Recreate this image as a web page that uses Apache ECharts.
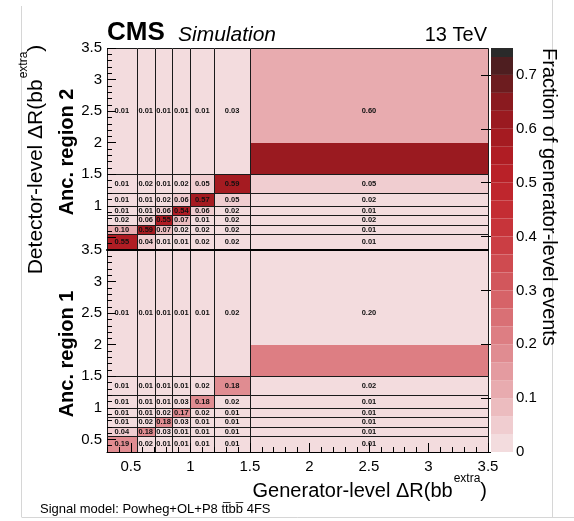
<!DOCTYPE html>
<html><head><meta charset="utf-8">
<script src="https://cdn.jsdelivr.net/npm/echarts@6.0.0/dist/echarts.min.js"></script>
<style>html,body{margin:0;padding:0;background:#fff}#c{width:574px;height:521px}</style>
</head><body><div id="c"></div>
<script>
// ---- data ----
const xEdges = [0.3, 0.55, 0.7, 0.85, 1.0, 1.2, 1.5, 3.5];
const yEdges = [0.3, 0.55, 0.7, 0.85, 1.0, 1.2, 1.5, 3.5];
// rows: detector-level bins from bottom to top; columns: generator-level bins
const region2 = [
  [0.55, 0.04, 0.01, 0.01, 0.02, 0.02, 0.01],
  [0.10, 0.59, 0.07, 0.02, 0.02, 0.02, 0.01],
  [0.02, 0.06, 0.55, 0.07, 0.01, 0.02, 0.02],
  [0.01, 0.01, 0.06, 0.54, 0.06, 0.02, 0.01],
  [0.01, 0.01, 0.02, 0.06, 0.57, 0.05, 0.02],
  [0.01, 0.02, 0.01, 0.02, 0.05, 0.59, 0.05],
  [0.01, 0.01, 0.01, 0.01, 0.01, 0.03, 0.60]
];
const region1 = [
  [0.19, 0.02, 0.01, 0.01, 0.01, 0.01, 0.01],
  [0.04, 0.18, 0.03, 0.01, 0.01, 0.01, 0.01],
  [0.01, 0.02, 0.18, 0.03, 0.01, 0.01, 0.01],
  [0.01, 0.01, 0.02, 0.17, 0.02, 0.01, 0.01],
  [0.01, 0.01, 0.01, 0.03, 0.18, 0.02, 0.01],
  [0.01, 0.01, 0.01, 0.01, 0.02, 0.18, 0.02],
  [0.01, 0.01, 0.01, 0.01, 0.01, 0.02, 0.20]
];
// upper part of the last cell is shown in a different shade
const topRightShadeRegion2 = 0.11;
const topRightShadeRegion1 = 0.01;
const topRightBandEdge = 2.0;
const xTicks = [0.5, 1, 1.5, 2, 2.5, 3, 3.5];
const yTicksRegion1 = [0.5, 1, 1.5, 2, 2.5, 3, 3.5];
const yTicksRegion2 = [1, 1.5, 2, 2.5, 3, 3.5];
const yMajorTicks = [0.5, 1, 1.5, 2, 2.5, 3, 3.5];
const colorbarTicks = [0, 0.1, 0.2, 0.3, 0.4, 0.5, 0.6, 0.7];
const zMax = 0.75;
const bandWidth = 1 / 30;
const palette = ['#f3dcde','#f0cdd0','#ecbcbf','#e8abaf','#e49ba0','#e08c91','#dd7e83','#d97075',
  '#d66368','#d2575c','#cf4b50','#cb3e44','#c7343a','#c42d33','#bf262d','#b92128','#b01d24',
  '#a51b21','#9a1a20','#8a1a1f','#6d1c1f','#4e1e20','#2a2a2a'];

// ---- helpers ----
const FONT = '"Liberation Sans", Arial, Helvetica, sans-serif';
const minorTicks = [];
for (let k = 3; k <= 35; k++) { if (k % 5 !== 0) minorTicks.push(k / 10); }
function colorOf(v) {
  let i = Math.floor(v / bandWidth + 1e-9);
  i = Math.max(0, Math.min(palette.length - 1, i));
  return palette[i];
}
function cellData(M, shade) {
  const out = [];
  for (let j = 0; j < M.length; j++) for (let i = 0; i < M[j].length; i++) {
    const last = (i === M[j].length - 1 && j === M.length - 1);
    out.push([xEdges[i], xEdges[i + 1], yEdges[j], yEdges[j + 1], M[j][i], last ? shade : -1]);
  }
  return out;
}
function renderCell(params, api) {
  const x0 = api.value(0), x1 = api.value(1), y0 = api.value(2), y1 = api.value(3);
  const v = api.value(4), sh = api.value(5);
  const tl = api.coord([x0, y1]), br = api.coord([x1, y0]);
  const L = Math.round(tl[0]), T = Math.round(tl[1]), R = Math.round(br[0]), B = Math.round(br[1]);
  const children = [{type: 'rect', shape: {x: L, y: T, width: R - L, height: B - T}, style: {fill: colorOf(v)}}];
  if (sh >= 0) {
    const m = Math.round(api.coord([x0, topRightBandEdge])[1]);
    children.push({type: 'rect', shape: {x: L, y: T, width: R - L, height: m - T}, style: {fill: colorOf(sh)}});
  }
  children.push({type: 'rect', shape: {x: L + 0.5, y: T + 0.5, width: R - L, height: B - T},
    style: {fill: 'none', stroke: '#1a1a1a', lineWidth: 1}});
  const cx = (api.coord([x0, y0])[0] + api.coord([x1, y0])[0]) / 2;
  const cy = api.coord([x0, (y0 + y1) / 2])[1];
  children.push({type: 'text', style: {text: v.toFixed(2), x: cx, y: cy, align: 'center', verticalAlign: 'middle',
    font: 'bold 7.5px ' + FONT, fill: '#111'}});
  return {type: 'group', children};
}
const colorbarBands = palette.map((c, k) => [k * bandWidth, Math.min((k + 1) * bandWidth, zMax), k]);
function renderBand(params, api) {
  const lo = api.value(0), hi = api.value(1), k = api.value(2);
  const tl = api.coord([0, hi]), br = api.coord([1, lo]);
  return {type: 'rect', shape: {x: tl[0], y: tl[1], width: br[0] - tl[0], height: br[1] - tl[1]},
    style: {fill: palette[k]}};
}
const cv = document.createElement('canvas').getContext('2d');
function measure(t, f) { cv.font = f; return cv.measureText(t).width; }
function supTitle(main, sup, tail, align, size, supSize) {
  const f1 = size + 'px ' + FONT, f2 = supSize + 'px ' + FONT;
  const w1 = measure(main, f1), w2 = measure(sup, f2), w3 = measure(tail, f1);
  const W = w1 + w2 + w3;
  const s = align === 'right' ? -W : -W / 2;
  const st = (t, f, x, y) => ({type: 'text', x: x, y: y, style: {text: t, font: f, fill: '#000', align: 'left', verticalAlign: 'middle'}});
  return [st(main, f1, s, 0), st(sup, f2, s + w1 + 1, -12), st(tail, f1, s + w1 + w2 + 1, 0)];
}

const axisLabelStyle = {fontFamily: FONT, fontSize: 15, color: '#000'};
const noSplit = {show: false};
const chart = echarts.init(document.getElementById('c'));
chart.setOption({
  animation: false,
  backgroundColor: '#fff',
  grid: [
    {left: 107, top: 48, width: 381, height: 202},
    {left: 107, top: 250, width: 381, height: 202},
    {left: 491, top: 48, width: 22, height: 404}
  ],
  xAxis: [
    {type: 'value', gridIndex: 0, min: 0.3, max: 3.5, position: 'bottom', z: 10,
      axisLine: {show: true, lineStyle: {color: '#000', width: 2}}, axisTick: {show: false}, axisLabel: {show: false}, splitLine: noSplit},
    {type: 'value', gridIndex: 1, min: 0.3, max: 3.5, position: 'bottom', z: 10,
      axisLine: {show: true, lineStyle: {color: '#000', width: 1}},
      axisTick: {show: true, inside: true, length: 9, customValues: xTicks, lineStyle: {color: '#000'}},
      axisLabel: Object.assign({customValues: xTicks, margin: 7, formatter: v => String(v)}, axisLabelStyle), splitLine: noSplit},
    {type: 'value', gridIndex: 1, min: 0.3, max: 3.5, position: 'bottom', z: 10,
      axisLine: {show: false}, axisTick: {show: true, inside: true, length: 5, customValues: minorTicks, lineStyle: {color: '#000'}},
      axisLabel: {show: false}, splitLine: noSplit},
    {type: 'value', gridIndex: 2, min: 0, max: 1, show: false}
  ],
  yAxis: [
    {type: 'value', gridIndex: 0, min: 0.3, max: 3.5, position: 'left', z: 10,
      axisLine: {show: false},
      axisTick: {show: true, inside: true, length: 9, customValues: yMajorTicks, lineStyle: {color: '#000'}},
      axisLabel: Object.assign({customValues: yTicksRegion2, margin: 5, formatter: v => String(v)}, axisLabelStyle), splitLine: noSplit},
    {type: 'value', gridIndex: 0, min: 0.3, max: 3.5, position: 'left', z: 10,
      axisLine: {show: false}, axisTick: {show: true, inside: true, length: 5, customValues: minorTicks, lineStyle: {color: '#000'}},
      axisLabel: {show: false}, splitLine: noSplit},
    {type: 'value', gridIndex: 1, min: 0.3, max: 3.5, position: 'left', z: 10,
      axisLine: {show: false},
      axisTick: {show: true, inside: true, length: 9, customValues: yMajorTicks, lineStyle: {color: '#000'}},
      axisLabel: Object.assign({customValues: yTicksRegion1, margin: 5, formatter: v => String(v)}, axisLabelStyle), splitLine: noSplit},
    {type: 'value', gridIndex: 1, min: 0.3, max: 3.5, position: 'left', z: 10,
      axisLine: {show: false}, axisTick: {show: true, inside: true, length: 5, customValues: minorTicks, lineStyle: {color: '#000'}},
      axisLabel: {show: false}, splitLine: noSplit},
    {type: 'value', gridIndex: 2, min: 0, max: zMax, position: 'right', z: 10,
      axisLine: {show: false},
      axisTick: {show: true, inside: true, length: 10, customValues: colorbarTicks, lineStyle: {color: '#000'}},
      axisLabel: Object.assign({customValues: colorbarTicks, margin: 3, formatter: v => String(v)}, axisLabelStyle), splitLine: noSplit}
  ],
  series: [
    {type: 'custom', xAxisIndex: 0, yAxisIndex: 0, renderItem: renderCell, clip: false, silent: true,
      encode: {x: [0, 1], y: [2, 3]}, data: cellData(region2, topRightShadeRegion2)},
    {type: 'custom', xAxisIndex: 1, yAxisIndex: 2, renderItem: renderCell, clip: false, silent: true,
      encode: {x: [0, 1], y: [2, 3]}, data: cellData(region1, topRightShadeRegion1)},
    {type: 'custom', xAxisIndex: 3, yAxisIndex: 4, renderItem: renderBand, clip: false, silent: true,
      encode: {y: [0, 1]}, data: colorbarBands}
  ],
  graphic: [
    {type: 'line', shape: {x1: 21.5, y1: 6, x2: 21.5, y2: 517}, style: {stroke: '#d6d6d6', lineWidth: 1}, silent: true},
    {type: 'line', shape: {x1: 21.5, y1: 517.5, x2: 574, y2: 517.5}, style: {stroke: '#d6d6d6', lineWidth: 1}, silent: true},
    {type: 'line', shape: {x1: 552.5, y1: 0, x2: 552.5, y2: 517}, style: {stroke: '#d6d6d6', lineWidth: 1}, silent: true},
    {type: 'text', x: 107, y: 33, style: {text: 'CMS', font: 'bold 26px ' + FONT, fill: '#000', align: 'left', verticalAlign: 'middle'}},
    {type: 'text', x: 178, y: 35, style: {text: 'Simulation', font: 'italic 21px ' + FONT, fill: '#000', align: 'left', verticalAlign: 'middle'}},
    {type: 'text', x: 487, y: 35, style: {text: '13 TeV', font: '20px ' + FONT, fill: '#000', align: 'right', verticalAlign: 'middle'}},
    {type: 'text', x: 67, y: 152, rotation: Math.PI / 2, style: {text: 'Anc. region 2', font: 'bold 20px ' + FONT, fill: '#000', align: 'center', verticalAlign: 'middle'}},
    {type: 'text', x: 67, y: 354, rotation: Math.PI / 2, style: {text: 'Anc. region 1', font: 'bold 20px ' + FONT, fill: '#000', align: 'center', verticalAlign: 'middle'}},
    {type: 'group', x: 36, y: 160, rotation: Math.PI / 2, children: supTitle('Detector-level \u0394R(bb', 'extra', ')', 'center', 21, 12)},
    {type: 'group', x: 486, y: 491, children: supTitle('Generator-level \u0394R(bb', 'extra', ')', 'right', 20, 12)},
    {type: 'text', x: 549, y: 48, rotation: -Math.PI / 2, style: {text: 'Fraction of generator-level events', font: '20px ' + FONT, fill: '#000', align: 'left', verticalAlign: 'middle'}},
    {type: 'text', x: 40, y: 509, style: {text: 'Signal model: Powheg+OL+P8 tt\u0305bb\u0305 4FS', font: '13px ' + FONT, fill: '#000', align: 'left', verticalAlign: 'middle'}}
  ]
});
</script>
</body></html>
